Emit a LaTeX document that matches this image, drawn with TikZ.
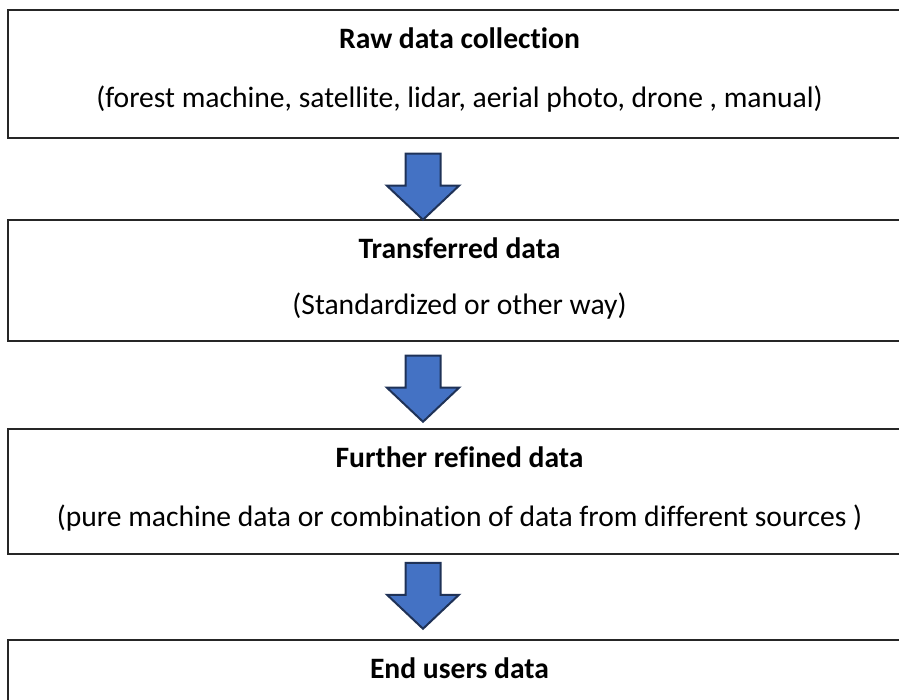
\documentclass[tikz,border=0pt]{standalone}
\usepackage{fontspec}
\setmainfont[Ligatures=NoCommon]{Carlito}
\usetikzlibrary{calc}
\definecolor{arrowfill}{HTML}{4472C4}
\definecolor{arrowedge}{HTML}{1F3257}
\tikzset{
  stagebox/.style={draw=black!85, line width=1.5pt, fill=white, minimum width=903, inner sep=0pt},
  titletext/.style={anchor=base, inner sep=0pt, font=\fontsize{29.6}{35}\selectfont\bfseries},
  subtext/.style={anchor=base, inner sep=0pt, font=\fontsize{29.6}{35}\selectfont},
  flowarrow/.style={fill=arrowfill, draw=arrowedge, line width=2pt, line join=miter},
  downarrow/.pic={
    \draw[flowarrow] (-17.5,0) -- (17.5,0) -- (17.5,-32) -- (36,-32) -- (0,-66)
      -- (-36,-32) -- (-17.5,-32) -- cycle;
  }
}
\begin{document}
\begin{tikzpicture}[x=1pt,y=1pt]
  \useasboundingbox (0,0) rectangle (899,699);
  \clip (0,0) rectangle (899,699);

  % stage boxes
  \node[stagebox, minimum height=128] (b1) at (459.5,625) {};
  \node[stagebox, minimum height=121] (b2) at (459.5,418.5) {};
  \node[stagebox, minimum height=125] (b3) at (459.5,207.5) {};
  \node[stagebox, minimum height=160] (b4) at (459.5,-21) {};

  % box texts
  \node[titletext] (t1) at ($(b1.north)+(0,-39)$) {Raw data collection};
  \node[subtext]   (s1) at ($(b1.north)+(0,-98)$) {(forest machine, satellite, lidar, aerial photo, drone , manual)};
  \node[titletext] (t2) at ($(b2.north)+(0,-39)$) {Transferred data};
  \node[subtext]   (s2) at ($(b2.north)+(0,-95)$) {(Standardized or other way)};
  \node[titletext] (t3) at ($(b3.north)+(0,-39)$) {Further refined data};
  \node[subtext]   (s3) at ($(b3.north)+(0,-98)$) {(pure machine data or combination of data from different sources )};
  \node[titletext] (t4) at ($(b4.north)+(0,-39)$) {End users data};

  % block arrows between stages
  \pic at ($(b1.south)+(-36.5,-15)$) {downarrow};
  \pic at ($(b2.south)+(-36.5,-14)$) {downarrow};
  \pic at ($(b3.south)+(-36.5,-8)$) {downarrow};
\end{tikzpicture}
\end{document}
